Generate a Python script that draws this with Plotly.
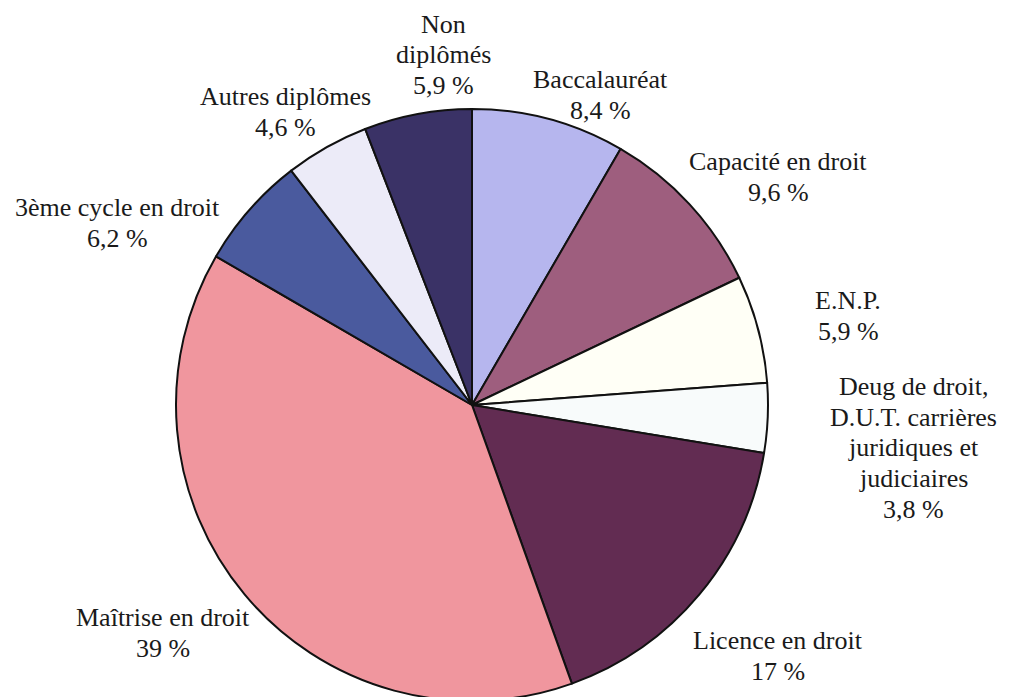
import plotly.graph_objects as go

# ---- data ----
categories = ["Baccalauréat", "Capacité en droit", "E.N.P.",
              "Deug de droit,<br>D.U.T. carrières<br>juridiques et<br>judiciaires",
              "Licence en droit", "Maîtrise en droit", "3ème cycle en droit",
              "Autres diplômes", "Non<br>diplômés"]
values = [8.4, 9.6, 5.9, 3.8, 17, 39, 6.2, 4.6, 5.9]
value_labels = ["8,4 %", "9,6 %", "5,9 %", "3,8 %", "17 %", "39 %", "6,2 %", "4,6 %", "5,9 %"]

# ---- styling ----
colors = ["#b6b6ee", "#9e5e7e", "#fffff6", "#f8fbfb", "#622c52",
          "#f0969e", "#4a5a9e", "#ecebf8", "#3a3266"]
# label block centres in pixel coordinates (x from left, y from top)
label_px = [(592, 87), (770, 169), (840, 308), (905, 440), (770, 648),
            (155, 625), (109, 215), (277, 104), (435, 47)]
LINE_H = 30.5
FONT = "Liberation Serif"

W, H = 1012, 697
cx, cy, r = 464, 397, 296

fig = go.Figure(go.Pie(
    labels=categories,
    values=values,
    sort=False,
    direction="clockwise",
    rotation=0,
    marker=dict(colors=colors, line=dict(color="#111111", width=2)),
    textinfo="none",
    hoverinfo="label+value",
    showlegend=False,
    domain=dict(x=[(cx - r) / W, (cx + r) / W],
                y=[(H - cy - r) / H, (H - cy + r) / H]),
))

for cat, val, (px, py) in zip(categories, value_labels, label_px):
    lines = cat.split("<br>") + [val]
    n = len(lines)
    for i, line in enumerate(lines):
        ly = py + (i - (n - 1) / 2) * LINE_H
        fig.add_annotation(
            x=px / W, y=1 - ly / H, xref="paper", yref="paper",
            xanchor="center", yanchor="middle", align="center",
            text=line, showarrow=False,
            font=dict(family=FONT, size=26, color="#1a1a1a"),
        )

fig.update_layout(
    width=W, height=H,
    font=dict(family=FONT),
    margin=dict(l=0, r=0, t=0, b=0),
    paper_bgcolor="white", plot_bgcolor="white",
)

fig.write_html("out.html")
